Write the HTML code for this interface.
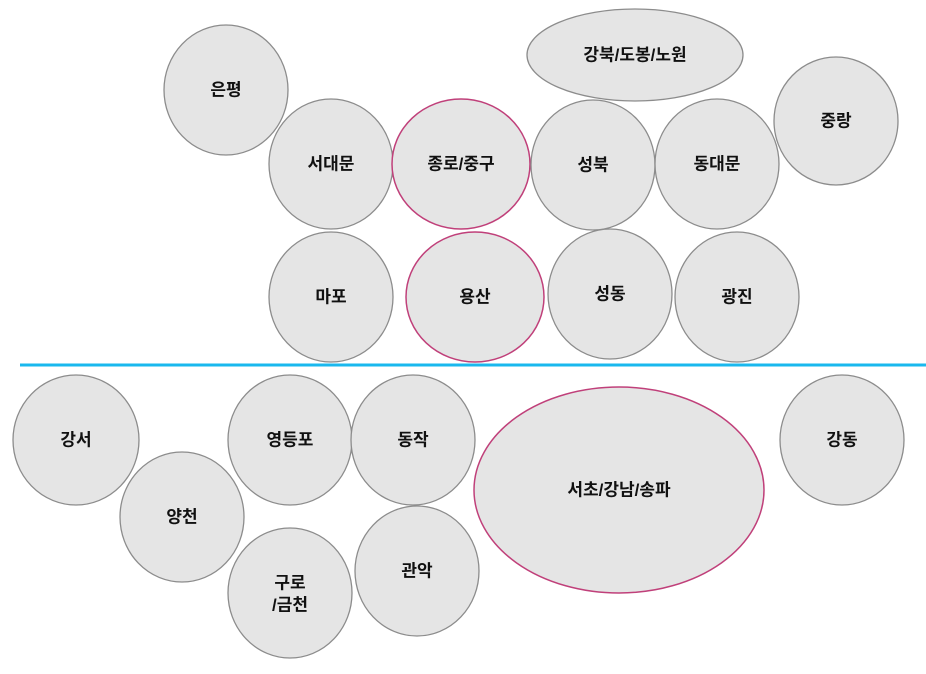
<!DOCTYPE html>
<html><head><meta charset="utf-8"><style>
html,body{margin:0;padding:0;background:#fff;}
svg{display:block}
text{font-family:"Liberation Sans","Noto Sans CJK KR",sans-serif;font-weight:bold;font-size:17px;fill:#111;text-anchor:middle;dominant-baseline:central}
ellipse{fill:#e5e5e5;stroke:#8c8c8c;stroke-width:1.3}
ellipse.p{stroke:#c0407a;stroke-width:1.5}
</style></head><body>
<svg width="926" height="674" viewBox="0 0 926 674">
<ellipse cx="635" cy="55" rx="108" ry="46"/><text x="635" y="55">강북/도봉/노원</text>
<ellipse cx="226" cy="90" rx="62" ry="65"/><text x="226" y="90">은평</text>
<ellipse cx="836" cy="121" rx="62" ry="64"/><text x="836" y="121">중랑</text>
<ellipse cx="331" cy="164" rx="62" ry="65"/><text x="331" y="164">서대문</text>
<ellipse class="p" cx="461" cy="164" rx="69" ry="65"/><text x="461" y="164">종로/중구</text>
<ellipse cx="593" cy="165" rx="62" ry="65"/><text x="593" y="165">성북</text>
<ellipse cx="717" cy="164" rx="62" ry="65"/><text x="717" y="164">동대문</text>
<ellipse cx="331" cy="297" rx="62" ry="65"/><text x="331" y="297">마포</text>
<ellipse class="p" cx="475" cy="297" rx="69" ry="65"/><text x="475" y="297">용산</text>
<ellipse cx="610" cy="294" rx="62" ry="65"/><text x="610" y="294">성동</text>
<ellipse cx="737" cy="297" rx="62" ry="65"/><text x="737" y="297">광진</text>
<rect x="20" y="363.5" width="906" height="3" fill="#1ab8ee"/>
<ellipse cx="76" cy="440" rx="63" ry="65"/><text x="76" y="440">강서</text>
<ellipse cx="182" cy="517" rx="62" ry="65"/><text x="182" y="517">양천</text>
<ellipse cx="290" cy="440" rx="62" ry="65"/><text x="290" y="440">영등포</text>
<ellipse cx="413" cy="440" rx="62" ry="65"/><text x="413" y="440">동작</text>
<ellipse cx="417" cy="571" rx="62" ry="65"/><text x="417" y="571">관악</text>
<ellipse cx="290" cy="593" rx="62" ry="65"/><text x="290" y="583">구로</text><text x="290" y="605">/금천</text>
<ellipse class="p" cx="619" cy="490" rx="145" ry="103"/><text x="619" y="490">서초/강남/송파</text>
<ellipse cx="842" cy="440" rx="62" ry="65"/><text x="842" y="440">강동</text>
</svg>
</body></html>
